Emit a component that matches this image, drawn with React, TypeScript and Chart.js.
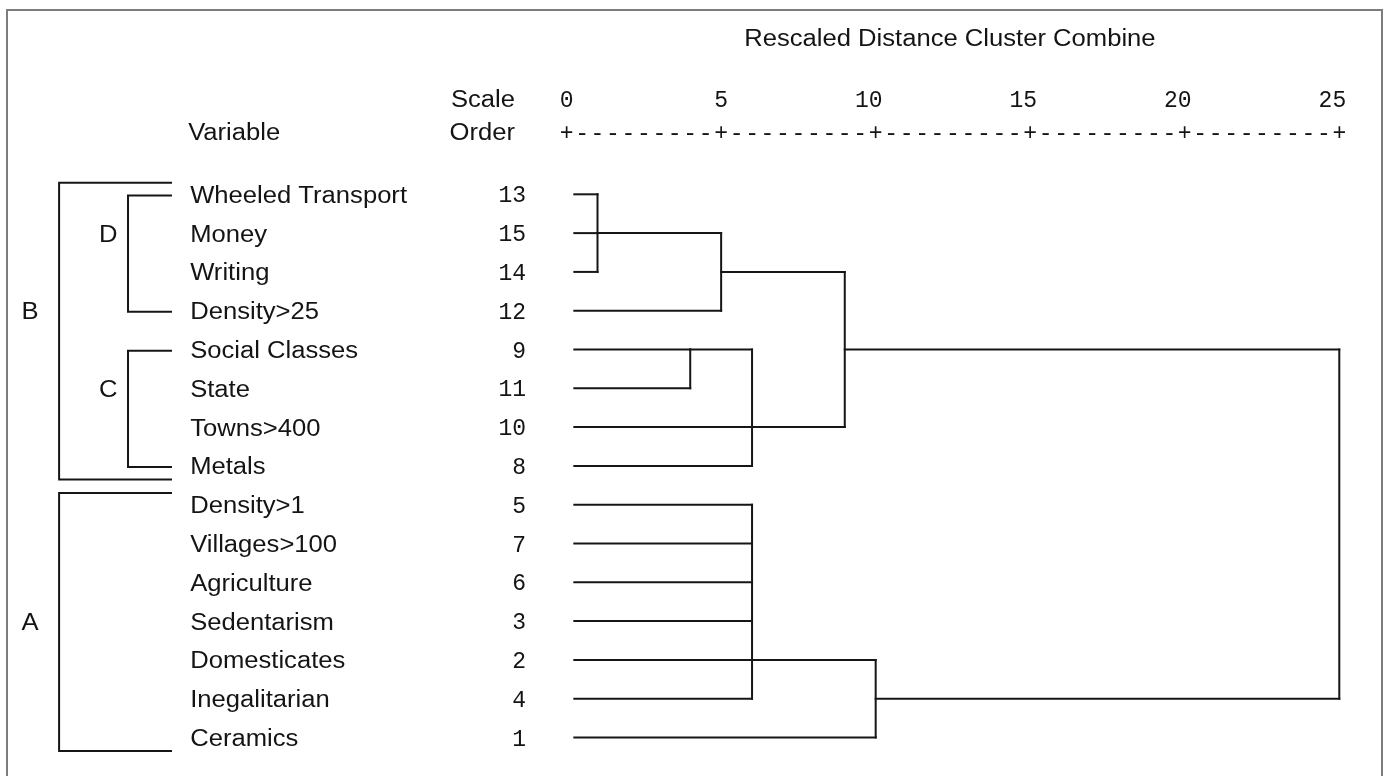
import React, { useEffect, useRef } from "react";
import { Chart, registerables } from "chart.js";

Chart.register(...registerables);

// ---------------- data ----------------
const variables = [
  "Wheeled Transport",
  "Money",
  "Writing",
  "Density>25",
  "Social Classes",
  "State",
  "Towns>400",
  "Metals",
  "Density>1",
  "Villages>100",
  "Agriculture",
  "Sedentarism",
  "Domesticates",
  "Inegalitarian",
  "Ceramics",
];
const scaleOrder = [13, 15, 14, 12, 9, 11, 10, 8, 5, 7, 6, 3, 2, 4, 1];

// merges (rescaled distance at which clusters combine)
const mergeDistance = [1, 4, 5, 6, 6, 9, 10, 25];
const mergeTopRow = [0, 4, 1, 4, 8, 2, 12, 4];
const mergeBottomRow = [2, 5, 3, 7, 13, 6, 14, 13];
const mergeOutRow = [1, 4, 2, 6, 12, 4, 13, -1];
const mergeParent = [2, 3, 5, 5, 6, 7, 7, -1];
const leafMerge = [0, 0, 0, 2, 1, 1, 3, 3, 4, 4, 4, 4, 4, 4, 6];
const leafStart = 0.25;

const tickValues = [0, 5, 10, 15, 20, 25];

const groupNames = ["B", "D", "C", "A"];
const groupFirstRow = [0, 0, 4, 8];
const groupLastRow = [7, 3, 7, 14];
const groupLevel = [0, 1, 1, 0];
const groupLabelRow = [3, 1, 5, 11];

const titleText = "Rescaled Distance Cluster Combine";
const variableHeader = "Variable";
const scaleHeader = ["Scale", "Order"];

// ---------------- layout (scale space) ----------------
const X_MIN = -18.332;
const X_MAX = 26.479;
const Y_MIN = -5.008;
const Y_MAX = 14.992;

const OUTER_BRACKET_X = -16.42;
const INNER_BRACKET_X = -14.19;
const BRACKET_ARM_X = -12.8;
const OUTER_PAD_TOP = 0.3;
const OUTER_PAD_BOTTOM = 0.35;
const INNER_PAD = 0.03;
const OUTER_LABEL_X = -17.36;
const INNER_LABEL_X = -14.83;
const VARIABLE_X = -12.18;
const ORDER_RIGHT_X = -1.313;
const HEADER_RIGHT_X = -1.67;
const TITLE_X = 12.4;
const TITLE_ROW = -4.05;
const TICK_ROW = -2.47;
const AXIS_ROW = -1.62;
const TEXT_DY = 2; // optical baseline correction (px)

const LINE_COLOR = "#161616";
const TEXT_COLOR = "#141414";
const SANS = '23.5px "Liberation Sans", Arial, Helvetica, sans-serif';
const MONO = '23px "Liberation Mono", "Courier New", monospace';
const SANS_STRETCH = 1.09;

type P = { x: number; y: number };

function buildSegments(): P[][] {
  const segs: P[][] = [];
  variables.forEach((_, i) => {
    segs.push([
      { x: leafStart, y: i },
      { x: mergeDistance[leafMerge[i]], y: i },
    ]);
  });
  mergeDistance.forEach((d, m) => {
    segs.push([
      { x: d, y: mergeTopRow[m] },
      { x: d, y: mergeBottomRow[m] },
    ]);
    const p = mergeParent[m];
    if (p >= 0) {
      segs.push([
        { x: d, y: mergeOutRow[m] },
        { x: mergeDistance[p], y: mergeOutRow[m] },
      ]);
    }
  });
  groupNames.forEach((_, g) => {
    const outer = groupLevel[g] === 0;
    const vx = outer ? OUTER_BRACKET_X : INNER_BRACKET_X;
    const top = groupFirstRow[g] - (outer ? OUTER_PAD_TOP : -INNER_PAD);
    const bottom = groupLastRow[g] + (outer ? OUTER_PAD_BOTTOM : INNER_PAD);
    segs.push([
      { x: BRACKET_ARM_X, y: top },
      { x: vx, y: top },
      { x: vx, y: bottom },
      { x: BRACKET_ARM_X, y: bottom },
    ]);
  });
  return segs;
}

function drawSans(ctx: CanvasRenderingContext2D, text: string, X: number, Y: number, align: CanvasTextAlign) {
  ctx.save();
  ctx.font = SANS;
  ctx.textAlign = align;
  ctx.textBaseline = "middle";
  ctx.translate(X, Y + TEXT_DY);
  ctx.scale(SANS_STRETCH, 1);
  ctx.fillText(text, 0, 0);
  ctx.restore();
}

function drawMono(ctx: CanvasRenderingContext2D, text: string, X: number, Y: number, align: CanvasTextAlign) {
  ctx.save();
  ctx.font = MONO;
  ctx.textAlign = align;
  ctx.textBaseline = "middle";
  ctx.fillText(text, X, Y + TEXT_DY);
  ctx.restore();
}

const framePlugin = {
  id: "frame",
  beforeDraw(chart: any) {
    const ctx: CanvasRenderingContext2D = chart.ctx;
    ctx.save();
    ctx.fillStyle = "#ffffff";
    ctx.fillRect(0, 0, chart.width, chart.height);
    ctx.strokeStyle = "#7d7d7d";
    ctx.lineWidth = 2;
    ctx.beginPath();
    ctx.moveTo(7, chart.height + 10);
    ctx.lineTo(7, 10);
    ctx.lineTo(chart.width - 3, 10);
    ctx.lineTo(chart.width - 3, chart.height + 10);
    ctx.stroke();
    ctx.restore();
  },
};

const textPlugin = {
  id: "dendroText",
  afterDatasetsDraw(chart: any) {
    const ctx: CanvasRenderingContext2D = chart.ctx;
    const xs = chart.scales.x;
    const ys = chart.scales.y;
    const px = (v: number) => xs.getPixelForValue(v);
    const py = (v: number) => ys.getPixelForValue(v);
    ctx.save();
    ctx.fillStyle = TEXT_COLOR;

    drawSans(ctx, titleText, px(TITLE_X), py(TITLE_ROW), "center");
    drawSans(ctx, variableHeader, px(VARIABLE_X) - 2, py(AXIS_ROW), "left");
    drawSans(ctx, scaleHeader[0], px(HEADER_RIGHT_X), py(TICK_ROW), "right");
    drawSans(ctx, scaleHeader[1], px(HEADER_RIGHT_X), py(AXIS_ROW), "right");

    // tick labels (right digit centred over the + mark)
    ctx.font = MONO;
    const charW = ctx.measureText("0").width;
    tickValues.forEach((t) => {
      drawMono(ctx, String(t), px(t) + charW / 2, py(TICK_ROW), "right");
    });
    // axis row of + and -
    for (let k = 0; k <= tickValues[tickValues.length - 1] * 2; k++) {
      const v = k / 2;
      const isTick = tickValues.indexOf(v) >= 0;
      drawMono(ctx, isTick ? "+" : "-", px(v), py(AXIS_ROW), "center");
    }

    variables.forEach((name, i) => {
      drawSans(ctx, name, px(VARIABLE_X), py(i), "left");
      drawMono(ctx, String(scaleOrder[i]), px(ORDER_RIGHT_X), py(i), "right");
    });

    groupNames.forEach((g, i) => {
      const lx = groupLevel[i] === 0 ? OUTER_LABEL_X : INNER_LABEL_X;
      drawSans(ctx, g, px(lx), py(groupLabelRow[i]), "center");
    });
    ctx.restore();
  },
};

export default function App() {
  const ref = useRef<HTMLCanvasElement | null>(null);
  useEffect(() => {
    if (!ref.current) return;
    const segs = buildSegments();
    const chart = new Chart(ref.current, {
      type: "scatter",
      data: {
        datasets: segs.map((s) => ({
          data: s,
          showLine: true,
          borderColor: LINE_COLOR,
          backgroundColor: LINE_COLOR,
          borderWidth: 2,
          pointRadius: 0,
          pointHoverRadius: 0,
          fill: false,
          tension: 0,
          borderCapStyle: "square",
          borderJoinStyle: "miter",
        })) as any,
      },
      options: {
        animation: false,
        responsive: false,
        devicePixelRatio: 1,
        events: [],
        layout: { padding: 0 },
        plugins: {
          legend: { display: false },
          tooltip: { enabled: false },
          title: { display: false },
        },
        scales: {
          x: { type: "linear", min: X_MIN, max: X_MAX, display: false },
          y: { type: "linear", min: Y_MIN, max: Y_MAX, reverse: true, display: false },
        },
      },
      plugins: [framePlugin, textPlugin],
    });
    return () => chart.destroy();
  }, []);
  return (
    <div style={{ position: "fixed", left: 0, top: 0, width: 1385, height: 776, overflow: "hidden", background: "#fff" }}>
      <canvas ref={ref} width={1385} height={776} style={{ display: "block" }} />
    </div>
  );
}
